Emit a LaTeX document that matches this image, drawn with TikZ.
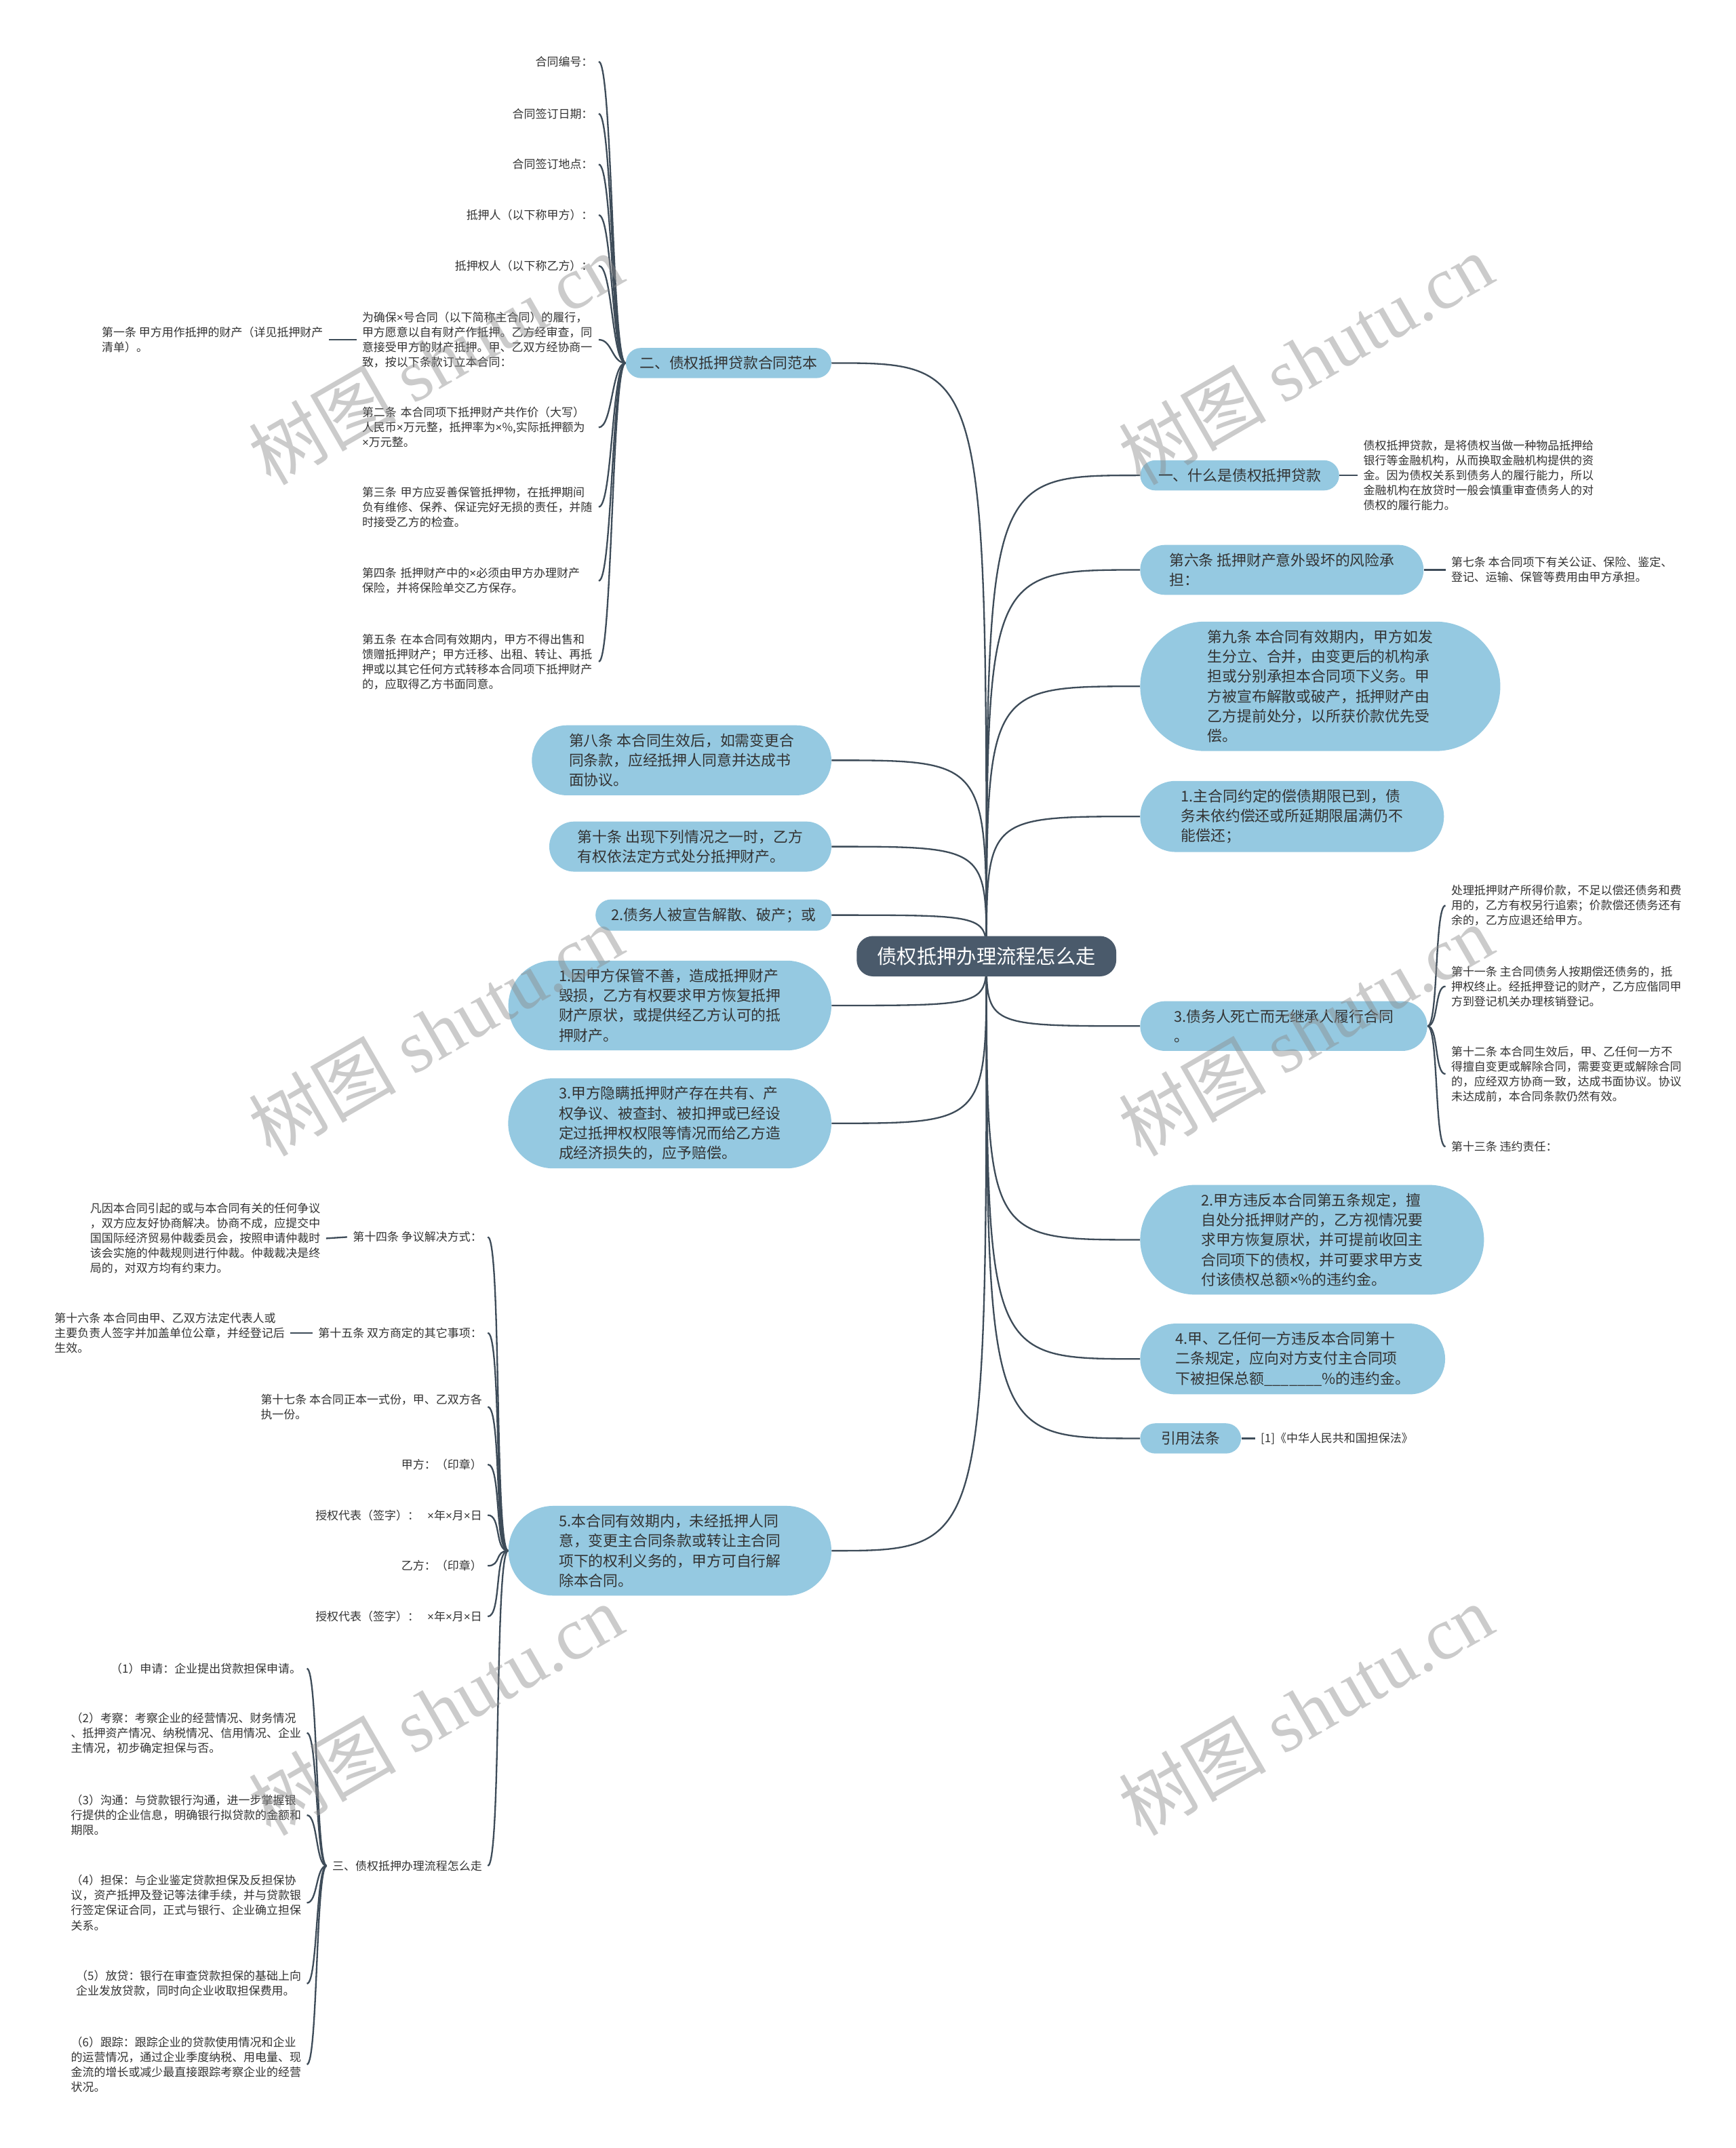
\documentclass[tikz,border=0pt]{standalone}
\usepackage{fontspec}
\setmainfont{Noto Sans CJK SC}
\newfontfamily\wmserif{Liberation Serif}
\newfontfamily\latinsans{Liberation Sans}
\newcommand{\tms}{{\latinsans ×}}
\usetikzlibrary{shapes.misc,backgrounds}
\definecolor{topicblue}{HTML}{95C9E1}
\definecolor{rootgray}{HTML}{4A5A6B}
\definecolor{linkgray}{HTML}{3E4C59}
\definecolor{textdark}{HTML}{333333}

\begin{document}
\begin{tikzpicture}
  [x=1pt,y=-1pt,every node/.style={text=textdark}]
  \tikzstyle{root} = [rounded corners=12pt, fill=rootgray, text=white, font=\fontsize{14.5}{17}\selectfont, inner xsep=15pt, inner ysep=8pt]
  \tikzstyle{topic} = [rounded rectangle, fill=topicblue, font=\fontsize{10.8}{14.5}\selectfont, align=left, inner xsep=11pt, inner ysep=6pt]
  \tikzstyle{leaf} = [font=\fontsize{8.4}{10.9}\selectfont, align=left, inner xsep=4pt, inner ysep=1pt]
  \tikzstyle{clause} = [leaf, text width=168.5pt]
  \tikzstyle{link} = [draw=linkgray, line width=1.15pt]
  \tikzstyle{wmark} = [rotate=30, text=black!45, opacity=.45, font=\fontsize{54}{60}\selectfont]
  \useasboundingbox (0,0) rectangle (1267,1568);

  \node[root] (root) at (720,698) {债权抵押办理流程怎么走};

  % right side
  \node[topic,anchor=west,inner xsep=12pt] (r1) at (832,347) {一、什么是债权抵押贷款};
  \node[topic,anchor=west,inner xsep=16.5pt] (r2) at (832,416) {第六条 抵押财产意外毁坏的风险承\\担：};
  \node[topic,anchor=west,inner xsep=25pt] (r3) at (832,501) {第九条 本合同有效期内，甲方如发\\生分立、合并，由变更后的机构承\\担或分别承担本合同项下义务。甲\\方被宣布解散或破产，抵押财产由\\乙方提前处分，以所获价款优先受\\偿。};
  \node[topic,anchor=west,inner xsep=20.5pt] (r4) at (832,596) {1.主合同约定的偿债期限已到，债\\务未依约偿还或所延期限届满仍不\\能偿还；};
  \node[topic,anchor=west,inner xsep=20pt] (r5) at (832,749) {3.债务人死亡而无继承人履行合同\\。};
  \node[topic,anchor=west,inner xsep=25.5pt] (r6) at (832,905) {2.甲方违反本合同第五条规定，擅\\自处分抵押财产的，乙方视情况要\\求甲方恢复原状，并可提前收回主\\合同项下的债权，并可要求甲方支\\付该债权总额\tms\%的违约金。};
  \node[topic,anchor=west,inner xsep=16.5pt] (r7) at (832,992) {4.甲、乙任何一方违反本合同第十\\二条规定，应向对方支付主合同项\\下被担保总额\_\_\_\_\_\_\_\%的违约金。};
  \node[topic,anchor=west,inner xsep=14pt] (r8) at (832,1050) {引用法条};

  \node[leaf,anchor=west] (d1) at (991,347) {债权抵押贷款，是将债权当做一种物品抵押给\\银行等金融机构，从而换取金融机构提供的资\\金。因为债权关系到债务人的履行能力，所以\\金融机构在放贷时一般会慎重审查债务人的对\\债权的履行能力。};
  \node[leaf,anchor=west] (d2) at (1055,416) {第七条 本合同项下有关公证、保险、鉴定、\\登记、运输、保管等费用由甲方承担。};
  \node[leaf,anchor=west] (law) at (916,1050) {[1]《中华人民共和国担保法》};
  \node[leaf,anchor=west] (c1) at (1055,661) {处理抵押财产所得价款，不足以偿还债务和费\\用的，乙方有权另行追索；价款偿还债务还有\\余的，乙方应退还给甲方。};
  \node[leaf,anchor=west] (c2) at (1055,720) {第十一条 主合同债务人按期偿还债务的，抵\\押权终止。经抵押登记的财产，乙方应偕同甲\\方到登记机关办理核销登记。};
  \node[leaf,anchor=west] (c3) at (1055,784) {第十二条 本合同生效后，甲、乙任何一方不\\得擅自变更或解除合同，需要变更或解除合同\\的，应经双方协商一致，达成书面协议。协议\\未达成前，本合同条款仍然有效。};
  \node[leaf,anchor=west] (c4) at (1055,837) {第十三条 违约责任：};

  % left side
  \node[topic,anchor=east,inner xsep=9pt] (l1) at (607,265) {二、债权抵押贷款合同范本};
  \node[topic,anchor=east,inner xsep=18pt] (l2) at (607,555) {第八条 本合同生效后，如需变更合\\同条款，应经抵押人同意并达成书\\面协议。};
  \node[topic,anchor=east,inner xsep=16pt] (l3) at (607,618) {第十条 出现下列情况之一时，乙方\\有权依法定方式处分抵押财产。};
  \node[topic,anchor=east,inner xsep=10pt] (l4) at (607,668) {2.债务人被宣告解散、破产；或};
  \node[topic,anchor=east,inner xsep=23pt] (l5) at (607,734) {1.因甲方保管不善，造成抵押财产\\毁损，乙方有权要求甲方恢复抵押\\财产原状，或提供经乙方认可的抵\\押财产。};
  \node[topic,anchor=east,inner xsep=23pt] (l6) at (607,820) {3.甲方隐瞒抵押财产存在共有、产\\权争议、被查封、被扣押或已经设\\定过抵押权权限等情况而给乙方造\\成经济损失的，应予赔偿。};
  \node[topic,anchor=east,inner xsep=23pt] (l7) at (607,1132) {5.本合同有效期内，未经抵押人同\\意，变更主合同条款或转让主合同\\项下的权利义务的，甲方可自行解\\除本合同。};

  \node[leaf,anchor=east] (a1) at (437,45) {合同编号：};
  \node[leaf,anchor=east] (a2) at (437,83) {合同签订日期：};
  \node[leaf,anchor=east] (a3) at (437,120) {合同签订地点：};
  \node[leaf,anchor=east] (a4) at (437,157) {抵押人（以下称甲方）：};
  \node[leaf,anchor=east] (a5) at (437,194) {抵押权人（以下称乙方）：};
  \node[clause,anchor=east] (a6) at (437,248) {为确保\tms 号合同（以下简称主合同）的履行，\\甲方愿意以自有财产作抵押。乙方经审查，同\\意接受甲方的财产抵押。甲、乙双方经协商一\\致，按以下条款订立本合同：};
  \node[leaf,anchor=east] (a6a) at (240,248) {第一条 甲方用作抵押的财产（详见抵押财产\\清单）。};
  \node[clause,anchor=east] (a7) at (437,312) {第二条 本合同项下抵押财产共作价（大写）\\人民币\tms 万元整，抵押率为\tms\%,实际抵押额为\\\tms 万元整。};
  \node[clause,anchor=east] (a8) at (437,370) {第三条 甲方应妥善保管抵押物，在抵押期间\\负有维修、保养、保证完好无损的责任，并随\\时接受乙方的检查。};
  \node[clause,anchor=east] (a9) at (437,424) {第四条 抵押财产中的\tms 必须由甲方办理财产\\保险，并将保险单交乙方保存。};
  \node[clause,anchor=east] (a10) at (437,483) {第五条 在本合同有效期内，甲方不得出售和\\馈赠抵押财产；甲方迁移、出租、转让、再抵\\押或以其它任何方式转移本合同项下抵押财产\\的，应取得乙方书面同意。};

  \node[leaf,anchor=east] (b1) at (356,903) {第十四条 争议解决方式：};
  \node[leaf,anchor=east] (b1a) at (238,904) {凡因本合同引起的或与本合同有关的任何争议\\，双方应友好协商解决。协商不成，应提交中\\国国际经济贸易仲裁委员会，按照申请仲裁时\\该会实施的仲裁规则进行仲裁。仲裁裁决是终\\局的，对双方均有约束力。};
  \node[leaf,anchor=east] (b2) at (356,973) {第十五条 双方商定的其它事项：};
  \node[leaf,anchor=east] (b2a) at (212,973) {第十六条 本合同由甲、乙双方法定代表人或\\主要负责人签字并加盖单位公章，并经登记后\\生效。};
  \node[leaf,anchor=east] (b3) at (356,1027) {第十七条 本合同正本一式份，甲、乙双方各\\执一份。};
  \node[leaf,anchor=east] (b4) at (356,1069) {甲方：（印章）};
  \node[leaf,anchor=east] (b5) at (356,1106) {授权代表（签字）：\hspace{6pt}\tms 年\tms 月\tms 日};
  \node[leaf,anchor=east] (b6) at (356,1143) {乙方：（印章）};
  \node[leaf,anchor=east] (b7) at (356,1180) {授权代表（签字）：\hspace{6pt}\tms 年\tms 月\tms 日};
  \node[leaf,anchor=east] (b8) at (356,1362) {三、债权抵押办理流程怎么走};

  \node[leaf,anchor=east] (e1) at (224,1218) {（1）申请：企业提出贷款担保申请。};
  \node[leaf,anchor=east] (e2) at (224,1265) {（2）考察：考察企业的经营情况、财务情况\\、抵押资产情况、纳税情况、信用情况、企业\\主情况，初步确定担保与否。};
  \node[leaf,anchor=east] (e3) at (224,1325) {（3）沟通：与贷款银行沟通，进一步掌握银\\行提供的企业信息，明确银行拟贷款的金额和\\期限。};
  \node[leaf,anchor=east] (e4) at (224,1389) {（4）担保：与企业鉴定贷款担保及反担保协\\议，资产抵押及登记等法律手续，并与贷款银\\行签定保证合同，正式与银行、企业确立担保\\关系。};
  \node[leaf,anchor=east] (e5) at (224,1448) {（5）放贷：银行在审查贷款担保的基础上向\\企业发放贷款，同时向企业收取担保费用。};
  \node[leaf,anchor=east] (e6) at (224,1507) {（6）跟踪：跟踪企业的贷款使用情况和企业\\的运营情况，通过企业季度纳税、用电量、现\\金流的增长或减少最直接跟踪考察企业的经营\\状况。};

  \begin{pgfonlayer}{background}
    \fill[white] (0,0) rectangle (1267,1568);
    \foreach \dest in {r1,r2,r3,r4,r5,r6,r7,r8}
      \draw[link] (root.center) .. controls (root.center |- \dest.west) .. (\dest.west);
    \foreach \dest in {l1,l2,l3,l4,l5,l6,l7}
      \draw[link] (root.center) .. controls (root.center |- \dest.east) .. (\dest.east);
    \foreach \source/\dest in {r1/d1,r2/d2,r8/law}
      \draw[link] (\source.east) -- (\dest.west);
    \foreach \source/\dest in {a6/a6a,b1/b1a,b2/b2a}
      \draw[link] (\source.west) -- (\dest.east);
    \foreach \dest in {c1,c2,c3,c4}
      \draw[link] (r5.east) .. controls +(8,0) and +(-8,0) .. (\dest.west);
    \foreach \dest in {a1,a2,a3,a4,a5,a6,a7,a8,a9,a10}
      \draw[link] (l1.west) .. controls +(-10,0) and +(10,0) .. (\dest.east);
    \foreach \dest in {b1,b2,b3,b4,b5,b6,b7,b8}
      \draw[link] (l7.west) .. controls +(-10,0) and +(10,0) .. (\dest.east);
    \foreach \dest in {e1,e2,e3,e4,e5,e6}
      \draw[link] (b8.west) .. controls +(-8,0) and +(8,0) .. (\dest.east);
  \end{pgfonlayer}

  % watermarks
  \node[wmark] (wm1) at (318,262) {树图 {\wmserif shutu.cn}};
  \node[wmark] (wm2) at (953,262) {树图 {\wmserif shutu.cn}};
  \node[wmark] (wm3) at (318,752) {树图 {\wmserif shutu.cn}};
  \node[wmark] (wm4) at (953,752) {树图 {\wmserif shutu.cn}};
  \node[wmark] (wm5) at (318,1248) {树图 {\wmserif shutu.cn}};
  \node[wmark] (wm6) at (953,1248) {树图 {\wmserif shutu.cn}};
\end{tikzpicture}
\end{document}
